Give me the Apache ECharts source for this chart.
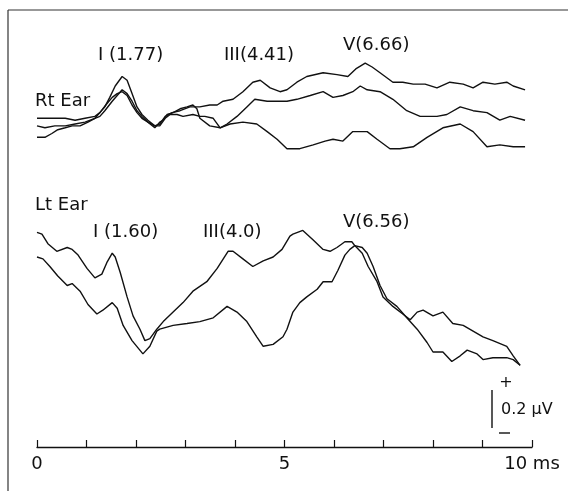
<!DOCTYPE html>
<html>
<head>
<meta charset="utf-8">
<script src="https://cdn.jsdelivr.net/npm/echarts@6/dist/echarts.min.js"></script>
<style>
  html, body { margin: 0; padding: 0; background: #fff; }
  #chart { width: 568px; height: 491px; }
</style>
</head>
<body>
<div id="chart"></div>
<script>
// latency (ms), amplitude (µV, traces stacked for display)
const rtTrace1 = [
  [0, 1.73], [0.16, 1.73], [0.36, 1.73], [0.57, 1.73], [0.77, 1.72], [0.97, 1.73], [1.17, 1.74],
  [1.27, 1.76], [1.37, 1.79], [1.47, 1.84], [1.58, 1.90], [1.72, 1.95], [1.82, 1.93], [1.92, 1.86],
  [2.02, 1.79], [2.12, 1.75], [2.24, 1.72], [2.38, 1.69], [2.48, 1.70], [2.59, 1.74], [2.73, 1.76],
  [2.89, 1.77], [3.09, 1.79], [3.29, 1.79], [3.49, 1.80], [3.64, 1.80], [3.76, 1.82], [3.96, 1.83],
  [4.16, 1.87], [4.36, 1.92], [4.51, 1.93], [4.71, 1.89], [4.91, 1.87], [5.05, 1.88], [5.25, 1.92],
  [5.45, 1.95], [5.78, 1.97], [6.06, 1.96], [6.28, 1.95], [6.44, 1.99], [6.63, 2.02], [6.77, 2.00],
  [6.93, 1.97], [7.19, 1.92], [7.39, 1.92], [7.60, 1.91], [7.84, 1.91], [8.08, 1.89], [8.34, 1.92],
  [8.61, 1.91], [8.81, 1.89], [9.01, 1.92], [9.25, 1.91], [9.49, 1.92], [9.62, 1.90], [9.86, 1.88]
];
const rtTrace2 = [
  [0, 1.69], [0.16, 1.68], [0.36, 1.69], [0.57, 1.69], [0.77, 1.70], [0.97, 1.71], [1.17, 1.73],
  [1.27, 1.74], [1.37, 1.77], [1.52, 1.82], [1.62, 1.85], [1.72, 1.88], [1.82, 1.86], [1.92, 1.82],
  [2.02, 1.77], [2.12, 1.74], [2.24, 1.71], [2.38, 1.69], [2.48, 1.69], [2.59, 1.73], [2.69, 1.75],
  [2.83, 1.75], [2.95, 1.74], [3.15, 1.75], [3.29, 1.74], [3.39, 1.74], [3.56, 1.73], [3.70, 1.68],
  [3.84, 1.70], [4.04, 1.74], [4.24, 1.79], [4.40, 1.83], [4.65, 1.82], [4.85, 1.82], [5.05, 1.82],
  [5.25, 1.83], [5.52, 1.85], [5.78, 1.87], [5.98, 1.84], [6.18, 1.85], [6.38, 1.87], [6.53, 1.90],
  [6.67, 1.88], [6.93, 1.87], [7.19, 1.83], [7.47, 1.77], [7.74, 1.74], [8.08, 1.74], [8.28, 1.75],
  [8.55, 1.79], [8.81, 1.77], [9.09, 1.76], [9.35, 1.72], [9.56, 1.74], [9.86, 1.72]
];
const rtTrace3 = [
  [0, 1.63], [0.16, 1.63], [0.30, 1.65], [0.42, 1.67], [0.57, 1.68], [0.71, 1.69], [0.87, 1.69],
  [1.03, 1.71], [1.17, 1.73], [1.27, 1.76], [1.39, 1.80], [1.52, 1.84], [1.62, 1.86], [1.72, 1.87],
  [1.82, 1.85], [1.92, 1.80], [2.02, 1.76], [2.12, 1.73], [2.24, 1.71], [2.38, 1.68], [2.48, 1.71],
  [2.55, 1.72], [2.63, 1.75], [2.75, 1.76], [2.89, 1.78], [3.03, 1.79], [3.15, 1.80], [3.23, 1.78],
  [3.29, 1.73], [3.49, 1.69], [3.70, 1.68], [3.90, 1.70], [4.16, 1.71], [4.44, 1.70], [4.65, 1.66],
  [4.85, 1.62], [5.05, 1.57], [5.31, 1.57], [5.58, 1.59], [5.82, 1.61], [5.98, 1.62], [6.18, 1.61],
  [6.38, 1.66], [6.67, 1.66], [6.87, 1.62], [7.13, 1.57], [7.33, 1.57], [7.60, 1.58], [7.88, 1.63],
  [8.20, 1.68], [8.55, 1.70], [8.81, 1.66], [9.09, 1.58], [9.35, 1.59], [9.62, 1.58], [9.86, 1.58]
];
const ltTrace1 = [
  [0, 1.13], [0.10, 1.12], [0.22, 1.07], [0.40, 1.03], [0.61, 1.05], [0.71, 1.04], [0.83, 1.01],
  [1.01, 0.94], [1.17, 0.89], [1.31, 0.91], [1.41, 0.97], [1.52, 1.02], [1.58, 1.00], [1.68, 0.92],
  [1.82, 0.79], [1.94, 0.69], [2.08, 0.62], [2.18, 0.56], [2.28, 0.57], [2.42, 0.62], [2.55, 0.66],
  [2.75, 0.71], [2.95, 0.76], [3.15, 0.82], [3.43, 0.87], [3.64, 0.94], [3.86, 1.03], [3.96, 1.03],
  [4.16, 0.99], [4.36, 0.95], [4.57, 0.98], [4.77, 1.00], [4.95, 1.04], [5.11, 1.11], [5.17, 1.12],
  [5.37, 1.14], [5.58, 1.09], [5.78, 1.04], [5.92, 1.03], [6.06, 1.05], [6.22, 1.08], [6.36, 1.08],
  [6.42, 1.06], [6.57, 1.02], [6.69, 0.95], [6.87, 0.87], [6.99, 0.79], [7.19, 0.74], [7.39, 0.70],
  [7.54, 0.67], [7.68, 0.71], [7.80, 0.72], [8.00, 0.69], [8.20, 0.71], [8.40, 0.65], [8.61, 0.64],
  [8.81, 0.61], [9.01, 0.58], [9.21, 0.56], [9.49, 0.53], [9.62, 0.48], [9.76, 0.43]
];
const ltTrace2 = [
  [0, 1.00], [0.12, 0.99], [0.26, 0.95], [0.42, 0.90], [0.61, 0.85], [0.71, 0.86], [0.87, 0.82],
  [1.03, 0.75], [1.21, 0.70], [1.33, 0.72], [1.52, 0.76], [1.62, 0.73], [1.74, 0.64], [1.92, 0.56],
  [2.14, 0.49], [2.28, 0.53], [2.42, 0.61], [2.48, 0.62], [2.75, 0.64], [3.03, 0.65], [3.29, 0.66],
  [3.56, 0.68], [3.84, 0.74], [4.04, 0.71], [4.24, 0.66], [4.44, 0.58], [4.57, 0.53], [4.77, 0.54],
  [4.97, 0.58], [5.05, 0.62], [5.17, 0.71], [5.31, 0.76], [5.45, 0.79], [5.66, 0.83], [5.78, 0.87],
  [5.96, 0.87], [6.08, 0.93], [6.22, 1.01], [6.32, 1.04], [6.42, 1.06], [6.57, 1.05], [6.67, 1.02],
  [6.79, 0.95], [6.93, 0.85], [7.07, 0.78], [7.27, 0.74], [7.47, 0.68], [7.68, 0.62], [7.88, 0.55],
  [8.00, 0.50], [8.20, 0.50], [8.38, 0.45], [8.55, 0.48], [8.69, 0.51], [8.89, 0.49], [9.01, 0.46],
  [9.21, 0.47], [9.49, 0.47], [9.62, 0.46], [9.76, 0.43]
];
const traces = [rtTrace1, rtTrace2, rtTrace3, ltTrace1, ltTrace2];

const xTickLabels = { 0: '0', 5: '5', 10: '10 ms' };

// peak annotations and panel titles
const annotations = [
  { text: 'I (1.77)', x: 98, y: 55 },
  { text: 'III(4.41)', x: 224, y: 55 },
  { text: 'V(6.66)', x: 343, y: 45 },
  { text: 'Rt Ear', x: 35, y: 101 },
  { text: 'Lt Ear', x: 35, y: 205 },
  { text: 'I (1.60)', x: 93, y: 232 },
  { text: 'III(4.0)', x: 203, y: 232 },
  { text: 'V(6.56)', x: 343, y: 222 }
];

const FONT = '18px "DejaVu Sans", sans-serif';
const INK = '#111';

const chart = echarts.init(document.getElementById('chart'), null, { renderer: 'canvas' });

const graphics = [
  { type: 'line', shape: { x1: 8, y1: 10, x2: 568, y2: 10 }, style: { stroke: '#333', lineWidth: 1.2 } },
  { type: 'line', shape: { x1: 8, y1: 10, x2: 8, y2: 491 }, style: { stroke: '#333', lineWidth: 1.2 } },
  // 0.2 µV scale bar
  { type: 'line', shape: { x1: 492, y1: 390, x2: 492, y2: 428 }, style: { stroke: INK, lineWidth: 1.4 } },
  { type: 'text', x: 506, y: 383, style: { text: '+', font: '16px "DejaVu Sans", sans-serif', fill: INK, align: 'center', verticalAlign: 'middle' } },
  { type: 'text', x: 501, y: 410, style: { text: '0.2 μV', font: '16px "DejaVu Sans", sans-serif', fill: INK, verticalAlign: 'middle' } },
  { type: 'line', shape: { x1: 499, y1: 433, x2: 510, y2: 433 }, style: { stroke: INK, lineWidth: 1.4 } }
];
annotations.forEach((a) => {
  graphics.push({
    type: 'text', x: a.x, y: a.y,
    style: { text: a.text, font: FONT, fill: INK, verticalAlign: 'middle' }
  });
});

chart.setOption({
  animation: false,
  backgroundColor: '#fff',
  grid: { left: 37, right: 36, top: 10, bottom: 44 },
  xAxis: {
    type: 'value',
    min: 0,
    max: 10,
    interval: 1,
    axisLine: { show: true, lineStyle: { color: INK, width: 1.4 } },
    axisTick: { show: true, inside: true, length: 7, lineStyle: { color: INK, width: 1.2 } },
    axisLabel: {
      color: INK,
      fontSize: 18,
      fontFamily: '"DejaVu Sans", sans-serif',
      margin: 8,
      formatter: (v) => xTickLabels[v] || ''
    },
    splitLine: { show: false }
  },
  yAxis: {
    type: 'value',
    min: 0,
    max: 2.3,
    show: false
  },
  series: traces.map((d) => ({
    type: 'line',
    data: d,
    showSymbol: false,
    lineStyle: { color: INK, width: 1.4 },
    emphasis: { disabled: true }
  })),
  graphic: graphics
});
</script>
</body>
</html>
